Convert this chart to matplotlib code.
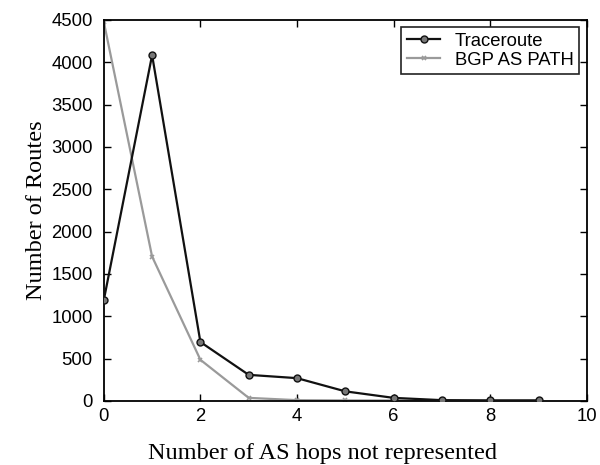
import numpy as np
import matplotlib.pyplot as plt

hops = [0, 1, 2, 3, 4, 5, 6, 7, 8, 9]
traceroute = [1190, 4085, 695, 307, 268, 112, 35, 8, 5, 5]
bgp_as_path = [4478, 1705, 485, 35, 8, 5, 4, 3, 3, 3]

fig = plt.figure(figsize=(6, 4.65), dpi=100)
ax = fig.add_axes([0.173, 0.138, 0.805, 0.819])

ax.plot(hops, bgp_as_path, color="#9a9a9a", lw=1.6, marker="x", ms=3.5,
        mew=1.2, label="BGP AS PATH", zorder=2)
ax.plot(hops, traceroute, color="#111111", lw=1.6, marker="o", ms=5,
        mfc="#777777", mec="#111111", mew=1.0, label="Traceroute", zorder=3)

ax.set_xlim(0, 10)
ax.set_ylim(0, 4500)
ax.set_xticks(np.arange(0, 11, 2))
ax.set_yticks(np.arange(0, 4501, 500))
ax.tick_params(direction="in", top=True, right=True, length=5, width=1,
               labelsize=13.3)
ax.tick_params(axis="y", pad=8)
ax.tick_params(axis="x", pad=5)
for lbl in ax.get_xticklabels() + ax.get_yticklabels():
    lbl.set_fontfamily("Liberation Sans")
for s in ax.spines.values():
    s.set_linewidth(1.3)

ax.set_xlabel("Number of AS hops not represented", family="Liberation Serif",
              fontsize=17.5)
ax.xaxis.set_label_coords(0.452, -0.11)
ax.set_ylabel("Number of Routes", family="Liberation Serif", fontsize=17.5,
              labelpad=3)

h, l = ax.get_legend_handles_labels()
leg = ax.legend(h[::-1], l[::-1], loc="upper right", fancybox=False,
                edgecolor="#222222", framealpha=1, handlelength=1.8,
                handletextpad=0.8, borderaxespad=0.4,
                prop={"family": "Liberation Sans", "size": 13.3},
                labelspacing=0.1, borderpad=0.3)
leg.get_frame().set_linewidth(1.2)

fig.savefig("out.png", dpi=100)
